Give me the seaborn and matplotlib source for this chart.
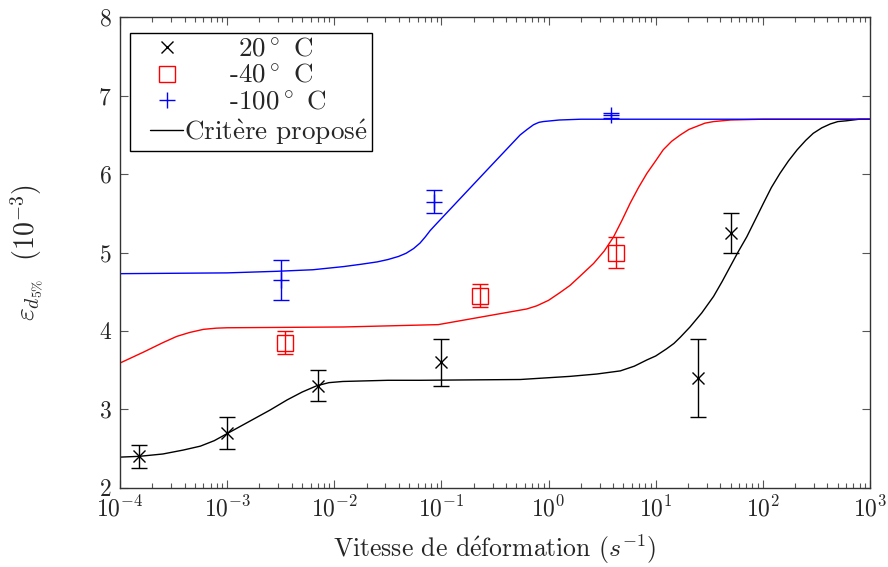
import numpy as np
import matplotlib
matplotlib.use("Agg")
import matplotlib.pyplot as plt
from matplotlib.lines import Line2D
from matplotlib.legend_handler import HandlerLine2D
import seaborn as sns

# measured points (strain rate, eps_d5%, half error)
x_20 = [1.5e-4, 1e-3, 7e-3, 0.1, 25, 50]
y_20 = [2.4, 2.7, 3.3, 3.6, 3.4, 5.25]
err_20 = [0.15, 0.2, 0.2, 0.3, 0.5, 0.25]

x_m40 = [3.5e-3, 0.23, 4.3]
y_m40 = [3.85, 4.45, 5.0]
err_m40 = [0.15, 0.15, 0.2]

x_m100 = [3.2e-3, 0.085, 3.8]
y_m100 = [4.65, 5.65, 6.75]
err_m100 = [0.25, 0.15, 0.03]

# proposed criterion curves (log10 of strain rate, value)
crit_20_logx = [-4.0, -3.82, -3.6, -3.41, -3.25, -3.12, -3.0, -2.88, -2.76, -2.6, -2.44, -2.3,
                -2.164, -2.05, -1.92, -1.5, -1.2, -0.265, 0.2, 0.45, 0.67, 0.8, 0.918, 1.0,
                1.1, 1.17, 1.23, 1.32, 1.43, 1.54, 1.62, 1.695, 1.77, 1.85, 1.93, 2.006, 2.08,
                2.16, 2.24, 2.32, 2.4, 2.47, 2.55, 2.63, 2.7, 2.78, 2.9, 3.0]
crit_20 = [2.39, 2.40, 2.43, 2.48, 2.53, 2.60, 2.69, 2.78, 2.87, 2.99, 3.12, 3.22,
           3.30, 3.34, 3.355, 3.37, 3.37, 3.38, 3.42, 3.45, 3.49, 3.55, 3.63, 3.68,
           3.77, 3.84, 3.92, 4.05, 4.23, 4.44, 4.63, 4.82, 5.01, 5.20, 5.42, 5.63, 5.83,
           6.01, 6.17, 6.31, 6.43, 6.52, 6.59, 6.64, 6.67, 6.68, 6.70, 6.70]

crit_m40_logx = [-4.0, -3.78, -3.6, -3.47, -3.35, -3.22, -3.1, -3.0, -1.915, -1.03, -0.203,
                 -0.11, 0.0, 0.108, 0.2, 0.295, 0.42, 0.52, 0.607, 0.685, 0.762, 0.84, 0.918,
                 1.0, 1.07, 1.15, 1.23, 1.31, 1.385, 1.46, 1.54, 1.7, 2.0, 3.0]
crit_m40 = [3.59, 3.73, 3.85, 3.93, 3.98, 4.02, 4.035, 4.04, 4.05, 4.08, 4.28,
            4.32, 4.39, 4.49, 4.58, 4.70, 4.86, 5.02, 5.20, 5.41, 5.63, 5.83, 6.01,
            6.17, 6.31, 6.42, 6.50, 6.57, 6.61, 6.65, 6.67, 6.69, 6.70, 6.70]

crit_m100_logx = [-4.0, -3.0, -2.54, -2.2, -1.915, -1.75, -1.6, -1.5, -1.4, -1.33, -1.26,
                  -1.2, -1.15, -1.105, -1.044, -0.576, -0.265, -0.2, -0.14, -0.09, -0.05,
                  0.1, 0.3, 3.0]
crit_m100 = [4.73, 4.74, 4.76, 4.78, 4.82, 4.85, 4.88, 4.91, 4.95, 4.99, 5.05,
             5.12, 5.20, 5.28, 5.37, 6.05, 6.50, 6.57, 6.63, 6.66, 6.67,
             6.69, 6.70, 6.70]

sns.set_style("ticks")
plt.rcParams['font.family'] = ['cmr10', 'DejaVu Serif']
plt.rcParams['mathtext.fontset'] = 'cm'
plt.rcParams['axes.unicode_minus'] = False
plt.rcParams['axes.formatter.use_mathtext'] = True

fig = plt.figure(figsize=(8.88, 5.67), dpi=100)
ax = fig.add_axes([120 / 888, 1 - 487.7 / 567, 750 / 888, 470.4 / 567])

sns.lineplot(x=10.0 ** np.array(crit_20_logx), y=crit_20, ax=ax, color='black', lw=1.0)
sns.lineplot(x=10.0 ** np.array(crit_m40_logx), y=crit_m40, ax=ax, color='red', lw=1.0)
sns.lineplot(x=10.0 ** np.array(crit_m100_logx), y=crit_m100, ax=ax, color='blue', lw=1.0)

cap = 6
ax.errorbar(x_20, y_20, yerr=err_20, fmt='none', ecolor='black', elinewidth=1, capsize=cap, capthick=1)
ax.errorbar(x_m40, y_m40, yerr=err_m40, fmt='none', ecolor='red', elinewidth=1, capsize=cap, capthick=1)
ax.errorbar(x_m100, y_m100, yerr=err_m100, fmt='none', ecolor='blue', elinewidth=1, capsize=cap, capthick=1)

h20, = ax.plot(x_20, y_20, ls='none', marker='x', ms=8, mew=1, color='black')
h40, = ax.plot(x_m40, y_m40, ls='none', marker='s', ms=12, mew=1, mfc='none', mec='red')
h100, = ax.plot(x_m100, y_m100, ls='none', marker='+', ms=11, mew=1, color='blue')
hcrit, = ax.plot([], [], color='black', lw=1.0)

ax.set_xscale('log')
ax.set_xlim(1e-4, 1e3)
ax.set_ylim(2, 8)
ax.set_yticks([2, 3, 4, 5, 6, 7, 8])

ax.tick_params(which='both', direction='in', top=True, right=True, labelsize=17,
               color='#555555', width=0.8)
ax.tick_params(which='major', length=6, pad=6)
ax.tick_params(which='minor', length=3.5)
for s in ax.spines.values():
    s.set_linewidth(1.0)
    s.set_color('#333333')

ax.set_xlabel(r"Vitesse de d$\mathrm{\acute{e}}$formation ($s^{-1}$)", fontsize=18.5, labelpad=8)
ax.set_ylabel(r"$\varepsilon_{d_{5\%}}\ \ (10^{-3})$", fontsize=20)
ax.yaxis.set_label_coords(-(120 - 46) / 750, 0.5)

leg = ax.legend([h20, h40, h100, hcrit],
                [r"      20$^\circ$ C", r"     -40$^\circ$ C", r"     -100$^\circ$ C",
                 r"Crit$\mathrm{\grave{e}}$re propos$\mathrm{\acute{e}}$"],
                handler_map={Line2D: HandlerLine2D(xpad=0.6)},
                loc='upper left', bbox_to_anchor=(10 / 750, 1 - 16 / 470.4), borderaxespad=0,
                fontsize=19.5, frameon=True, fancybox=False, framealpha=1, edgecolor='black',
                handlelength=1.8, handletextpad=0.05, labelspacing=0.1, borderpad=0.15)
leg.get_frame().set_linewidth(1.0)

fig.savefig("out.png", dpi=100)
